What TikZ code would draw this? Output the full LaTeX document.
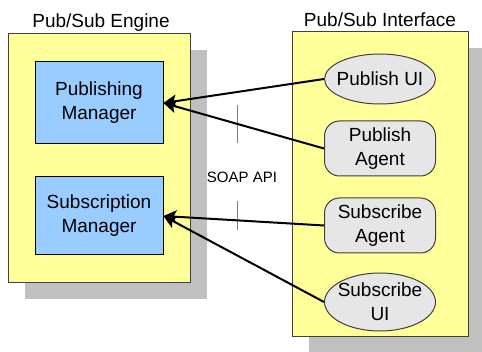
\documentclass[tikz,border=0pt]{standalone}
\usepackage{fontspec}
\setmainfont{Liberation Sans}
\usetikzlibrary{shapes.geometric,shadows,arrows.meta}

\definecolor{paneyellow}{HTML}{FFFF99}
\definecolor{managerblue}{HTML}{99CCFF}
\definecolor{clientgray}{HTML}{E6E6E6}
\definecolor{shadowgray}{HTML}{C0C0C0}
\definecolor{edgegray}{HTML}{404040}

\tikzset{
  pane/.style={draw=edgegray, line width=1pt, fill=paneyellow, inner sep=0pt,
    drop shadow={shadow xshift=16.5pt, shadow yshift=-16.5pt, fill=shadowgray, opacity=1}},
  manager/.style={draw=black, line width=1pt, fill=managerblue, align=center,
    minimum width=128pt, inner sep=0pt},
  clientui/.style={ellipse, draw=edgegray, line width=1pt, fill=clientgray,
    minimum width=111pt, inner sep=0pt},
  agent/.style={draw=edgegray, line width=1pt, fill=clientgray, rounded corners=15pt,
    minimum width=111pt, minimum height=55pt, align=center, inner sep=0pt},
  link/.style={line width=2pt, -{Stealth[length=13pt,width=13pt,inset=3pt]}},
  apimark/.style={draw=gray, line width=1pt}
}

\begin{document}
\begin{tikzpicture}[x=1pt,y=-1pt,font=\fontsize{19}{24}\selectfont]
\useasboundingbox (0,0) rectangle (482,352);

% Draw the two panes
\node[pane, minimum width=182pt, minimum height=249pt] (engine) at (99,158.5) {};
\node[pane, minimum width=176pt, minimum height=305pt] (iface) at (380,184.5) {};

% Pane titles
\node[anchor=base] (enginetitle) at (101,28) {Pub/Sub Engine};
\node[anchor=base] (ifacetitle) at (380,27) {Pub/Sub Interface};

% Managers inside the engine
\node[manager, minimum height=82pt] (pubmgr) at (99,103) {Publishing\\Manager};
\node[manager, minimum height=78pt] (submgr) at (99,216) {Subscription\\Manager};

% Clients inside the interface
\node[clientui, minimum height=50pt, label={center:Publish UI}] (pubui) at (380,79) {};
\node[agent] (pubagent) at (380,148.5) {Publish\\Agent};
\node[agent] (subagent) at (380,225.5) {Subscribe\\Agent};
\node[clientui, minimum height=58pt, label={[align=center]center:Subscribe\\UI}] (subui) at (380,302) {};

% SOAP API label with its marks
\node[font=\fontsize{15}{18}\selectfont] (soap) at (242,177) {SOAP API};
\coordinate (marka) at (237,105);
\coordinate (markb) at (237,143);
\coordinate (markc) at (237,201);
\coordinate (markd) at (237,230);
\draw[apimark] (marka) -- (markb);
\draw[apimark] (markc) -- (markd);

% Calls from the clients to the managers
\draw[link] (pubui.west) -- (pubmgr.east);
\draw[link] (pubagent.west) -- (pubmgr.east);
\draw[link] (subagent.west) -- (submgr.east);
\draw[link] (subui.west) -- (submgr.east);

\end{tikzpicture}
\end{document}
